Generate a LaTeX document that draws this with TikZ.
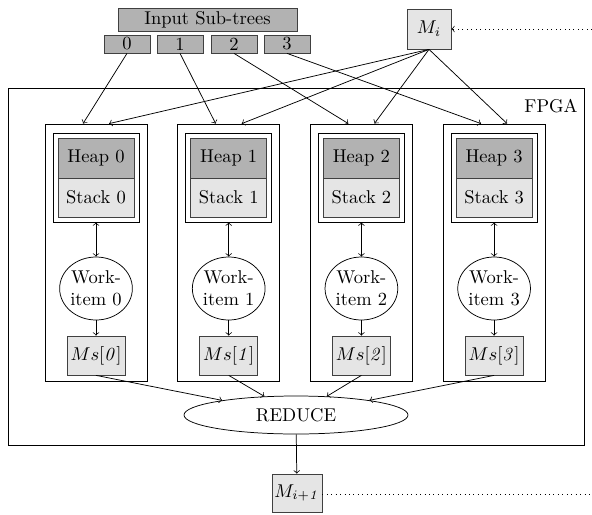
\documentclass[tikz,border=0pt]{standalone}
\usetikzlibrary{shapes.geometric,fit,calc}
\begin{document}
\begin{tikzpicture}[x=0.54pt,y=-0.54pt,>=to,
  gbox/.style={draw=black!75, fill=black!30, rectangle, inner sep=0pt},
  lbox/.style={draw=black!75, fill=black!10, rectangle, inner sep=0pt},
  plain/.style={draw, rectangle, inner sep=0pt},
  ell/.style={draw, ellipse, inner sep=0pt, align=center},
  conn/.style={->},
  dots/.style={dotted}]
\def\U{0.54pt}
\useasboundingbox (0,0) rectangle (592,514);
% inputs
\node[gbox, minimum width=179*\U, minimum height=23*\U] (in) at (207.5,19.5) {Input Sub-trees};
\foreach \i/\x in {0/127,1/180,2/234,3/287}
  \node[gbox, minimum width=46*\U, minimum height=18*\U] (s\i) at (\x,44) {\i};
\node[lbox, minimum width=44*\U, minimum height=40*\U] (mi) at (429,29) {$M_i$};
\coordinate (miin) at (592,29);
\draw[dots,->] (miin) -- (mi);
% FPGA
\node[plain, minimum width=576*\U, minimum height=357*\U] (fpga) at (296,266.5) {};
\node (fpgal) at (551,106) {FPGA};
% reduce
\node[ell, minimum width=224*\U, minimum height=38*\U] (reduce) at (296,415) {REDUCE};
% columns
\foreach \i in {0,1,2,3} {
  \pgfmathsetmacro\cx{96+132.7*\i}
  \node[plain, minimum width=102*\U, minimum height=257*\U] (col\i) at (\cx,252.5) {};
  \node[gbox, minimum width=76*\U, minimum height=40*\U] (heap\i) at (\cx,158) {Heap \i};
  \node[lbox, minimum width=76*\U, minimum height=39*\U] (stack\i) at (\cx,197.5) {Stack \i};
  \node[plain, fit=(heap\i)(stack\i), inner sep=2.5pt] (hs\i) {};
  \node[ell, minimum width=71*\U, minimum height=63*\U] (wi\i) at (\cx,288.5) {Work-\\item \i};
  \node[lbox, minimum width=58*\U, minimum height=39*\U] (ms\i) at (\cx,355.5) {$Ms[\mathit{\i}]$};
  \draw[<->] (hs\i) -- (wi\i);
  \draw[conn] (wi\i) -- (ms\i);
  \coordinate (ca\i) at ($(col\i.north)+(-13,0)$);
  \coordinate (cb\i) at ($(col\i.north)+(13,0)$);
  \draw[conn] (s\i.south) -- (ca\i);
  \draw[conn] (mi.south) -- (cb\i);
  \draw[conn] (ms\i.south) -- (reduce);
}
\node[lbox, minimum width=50*\U, minimum height=38*\U] (mip) at (297,493) {$M_{i+\mathit{1}}$};
\draw[conn] (reduce) -- (mip);
\coordinate (mipout) at (592,494);
\draw[dots] (mip.east |- mipout) -- (mipout);
\end{tikzpicture}
\end{document}
